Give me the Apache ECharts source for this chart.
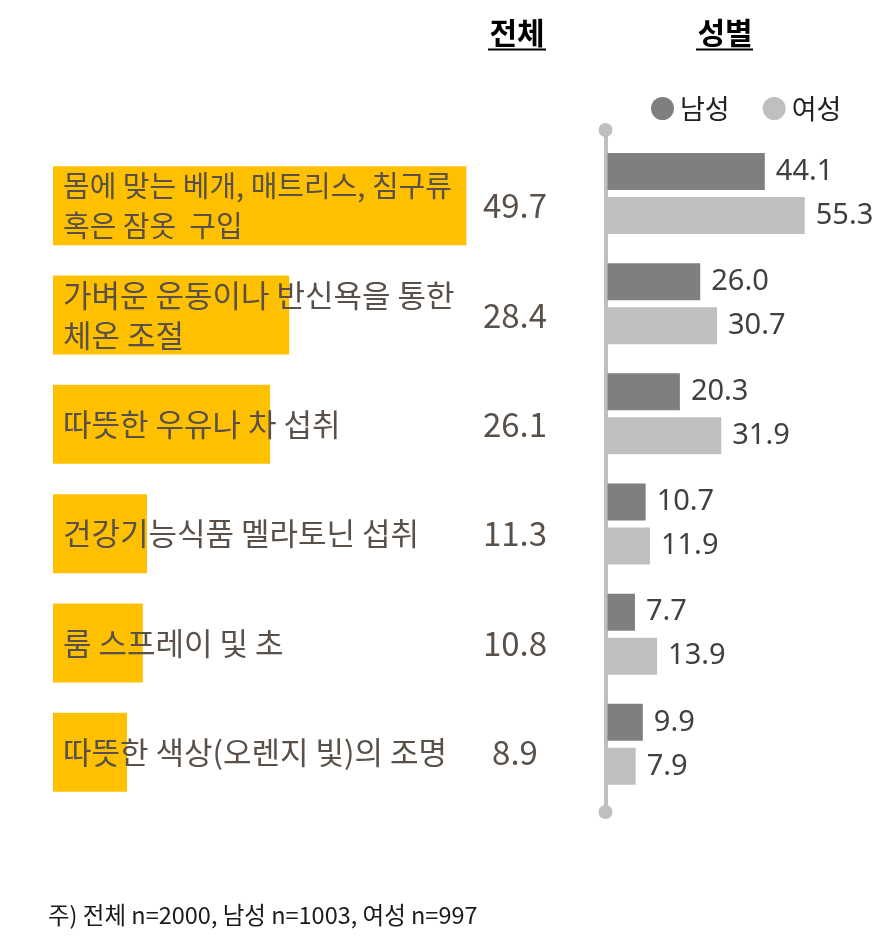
<!DOCTYPE html>
<html><head><meta charset="utf-8">
<script src="https://cdn.jsdelivr.net/npm/echarts@6/dist/echarts.min.js"></script>
<style>html,body{margin:0;padding:0;background:#fff}#c{width:886px;height:940px}</style>
</head><body><div id="c"></div>
<script>
const categories = ['몸에 맞는 베개, 매트리스, 침구류\n혹은 잠옷  구입', '가벼운 운동이나 반신욕을 통한\n체온 조절', '따뜻한 우유나 차 섭취', '건강기능식품 멜라토닌 섭취', '룸 스프레이 및 초', '따뜻한 색상(오렌지 빛)의 조명'];
const totalValues = [49.7, 28.4, 26.1, 11.3, 10.8, 8.9];
const maleValues = [44.1, 26.0, 20.3, 10.7, 7.7, 9.9];
const femaleValues = [55.3, 30.7, 31.9, 11.9, 13.9, 7.9];
const seriesNames = ['남성', '여성'];
const headers = ['전체', '성별'];
const footnote = '주) 전체 n=2000, 남성 n=1003, 여성 n=997';

const KR = '"Noto Sans CJK KR"';
const chart = echarts.init(document.getElementById('c'));
const fmt = v => (typeof v === 'object' ? v.value : v).toFixed(1);

chart.setOption({
  animation: false,
  backgroundColor: '#fff',
  grid: [
    {left: 53, top: 151, width: 499, height: 656},
    {left: 607.5, top: 138.4, width: 214, height: 661},
    {left: 605.5, top: 130, width: 10, height: 682}
  ],
  xAxis: [
    {gridIndex: 0, type: 'value', min: 0, max: 60, show: false},
    {gridIndex: 1, type: 'value', min: 0, max: 60, show: false},
    {gridIndex: 2, type: 'value', min: 0, max: 1, show: false}
  ],
  yAxis: [
    {gridIndex: 0, type: 'category', data: categories, inverse: true, show: false},
    {gridIndex: 0, type: 'category', data: totalValues.map(v => v.toFixed(1)), inverse: true,
     position: 'right', offset: -37,
     axisLine: {show: false}, axisTick: {show: false}, splitLine: {show: false},
     axisLabel: {align: 'center', margin: 0, fontSize: 33, color: '#595049', fontFamily: KR}},
    {gridIndex: 1, type: 'category', data: categories, inverse: true, show: false},
    {gridIndex: 2, type: 'value', min: 0, max: 1,
     axisLine: {show: true, symbol: ['circle', 'circle'], symbolSize: [14, 14], lineStyle: {color: '#BFBFBF', width: 4}},
     axisTick: {show: false}, axisLabel: {show: false}, splitLine: {show: false}}
  ],
  legend: {
    data: seriesNames, icon: 'circle', itemWidth: 23, itemHeight: 23,
    left: 646, top: 90, itemGap: 33,
    textStyle: {fontSize: 27, color: '#222', fontFamily: KR, padding: [0, 0, 0, 1]}
  },
  series: [
    {type: 'bar', xAxisIndex: 0, yAxisIndex: 0,
     data: totalValues.map((v, i) => i === 0 ? {value: v, label: {fontSize: 29}} : v),
     barWidth: 79, itemStyle: {color: '#FFC000'}, silent: true,
     label: {show: true, position: 'insideLeft', distance: 10, formatter: '{b}',
             color: '#595049', fontSize: 31, lineHeight: 40, fontFamily: KR}},
    {name: seriesNames[0], type: 'bar', xAxisIndex: 1, yAxisIndex: 2, data: maleValues,
     barWidth: 37, barGap: '19%', itemStyle: {color: '#7F7F7F'},
     label: {show: true, position: 'right', distance: 11, formatter: p => fmt(p.value),
             fontSize: 29, color: '#404040', fontFamily: '"Noto Sans"'}},
    {name: seriesNames[1], type: 'bar', xAxisIndex: 1, yAxisIndex: 2, data: femaleValues,
     barWidth: 37, barGap: '19%', itemStyle: {color: '#BFBFBF'},
     label: {show: true, position: 'right', distance: 11, formatter: p => fmt(p.value),
             fontSize: 29, color: '#404040', fontFamily: '"Noto Sans"'}}
  ],
  graphic: [
    {type: 'text', x: 517, y: 33, style: {text: headers[0], align: 'center', verticalAlign: 'middle', font: 'bold 30px ' + KR, fill: '#000'}},
    {type: 'line', shape: {x1: 488, y1: 49.5, x2: 546, y2: 49.5}, style: {stroke: '#000', lineWidth: 2}},
    {type: 'text', x: 725, y: 33, style: {text: headers[1], align: 'center', verticalAlign: 'middle', font: 'bold 30px ' + KR, fill: '#000'}},
    {type: 'line', shape: {x1: 696, y1: 49.5, x2: 753, y2: 49.5}, style: {stroke: '#000', lineWidth: 2}},
    {type: 'text', x: 48, y: 915, style: {text: footnote, align: 'left', verticalAlign: 'middle', font: '23.5px ' + KR, fill: '#1a1a1a'}}
  ]
});
</script></body></html>
